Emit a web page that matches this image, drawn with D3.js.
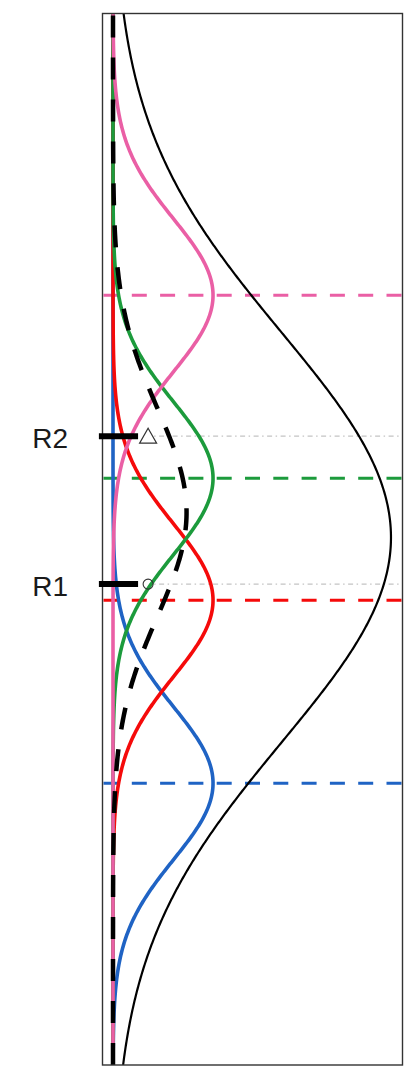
<!DOCTYPE html>
<html><head><meta charset="utf-8">
<script src="https://cdn.jsdelivr.net/npm/d3@7"></script>
<style>html,body{margin:0;padding:0;background:#fff;} svg{display:block;}</style>
</head><body>
<script>
// ---- data ----
const groupNames  = ["blue", "red", "green", "pink"];
const groupMeans  = [-4, -1, 1, 4];
const groupSDs    = [1.25, 1.25, 1.25, 1.25];
const groupColors = ["#1f63c4", "#f50a0a", "#1c9b3c", "#ea5fa5"];
const pooledMean = 0.44, pooledSD = 1.7;                        // dashed black curve
const marginalMean = 0.03, marginalSD = 3.36, marginalScale = 7.47; // thin black curve
const refLabels  = ["R1", "R2"];
const refValues  = [-0.735, 1.69];
const refMarkers = ["circle", "triangle"];
const refMarkerX = 0.112;
const refTickFrom = -0.045, refTickTo = 0.08;
const yDomain = [-8.62, 8.62];
const xDomain = [-0.0335, 0.9237];

// ---- layout ----
const W = 411, H = 1066;
const pLeft = 102.5, pRight = 402.5, pTop = 13.5, pBottom = 1065;

const svg = d3.select("body").append("svg").attr("width", W).attr("height", H);
const x = d3.scaleLinear().domain(xDomain).range([pLeft, pRight]);
const y = d3.scaleLinear().domain(yDomain).range([pBottom, pTop]);

svg.append("defs").append("clipPath").attr("id", "clip")
  .append("rect").attr("x", pLeft).attr("y", pTop).attr("width", pRight - pLeft).attr("height", pBottom - pTop);

const dnorm = (v, m, s) => Math.exp(-0.5 * ((v - m) / s) ** 2) / (s * Math.sqrt(2 * Math.PI));
const grid = d3.range(yDomain[0], yDomain[1] + 1e-9, 0.02);
const line = d3.line().x(d => x(d[1])).y(d => y(d[0])).curve(d3.curveLinear);

const g = svg.append("g").attr("clip-path", "url(#clip)");

// horizontal dashed mean lines
g.selectAll("line.mean").data(groupMeans).join("line")
  .attr("class", "mean")
  .attr("x1", pLeft + 1).attr("x2", pRight)
  .attr("y1", d => y(d)).attr("y2", d => y(d))
  .attr("stroke", (d, i) => groupColors[i]).attr("stroke-width", 3)
  .attr("stroke-dasharray", "15,13.3");

// gray reference lines
g.selectAll("line.ref").data(refValues).join("line")
  .attr("class", "ref")
  .attr("x1", x(refMarkerX) + 6).attr("x2", pRight)
  .attr("y1", d => y(d)).attr("y2", d => y(d))
  .attr("stroke", "#c4c4c4").attr("stroke-width", 1.4)
  .attr("stroke-dasharray", "1.5,3.5,5,3.5");

// colored density curves
groupMeans.forEach((m, i) => {
  g.append("path")
    .datum(grid.map(v => [v, dnorm(v, m, groupSDs[i])]))
    .attr("d", line).attr("fill", "none")
    .attr("stroke", groupColors[i]).attr("stroke-width", 3.6)
    .attr("stroke-linejoin", "round");
});

// dashed black curve
g.append("path")
  .datum(grid.map(v => [v, dnorm(v, pooledMean, pooledSD)]))
  .attr("d", line).attr("fill", "none")
  .attr("stroke", "#000").attr("stroke-width", 4.5)
  .attr("stroke-dasharray", "22,20");

// thin black curve
g.append("path")
  .datum(grid.map(v => [v, marginalScale * dnorm(v, marginalMean, marginalSD)]))
  .attr("d", line).attr("fill", "none")
  .attr("stroke", "#000").attr("stroke-width", 2.2);

// panel box
svg.append("rect").attr("x", pLeft).attr("y", pTop)
  .attr("width", pRight - pLeft).attr("height", pBottom - pTop)
  .attr("fill", "none").attr("stroke", "#333").attr("stroke-width", 1.4);

// reference ticks
svg.selectAll("line.tick").data(refValues).join("line")
  .attr("class", "tick")
  .attr("x1", x(refTickFrom)).attr("x2", x(refTickTo))
  .attr("y1", d => y(d)).attr("y2", d => y(d))
  .attr("stroke", "#000").attr("stroke-width", 6);

// markers
refValues.forEach((v, i) => {
  const cx = x(refMarkerX), cy = y(v);
  if (refMarkers[i] === "circle") {
    svg.append("circle").attr("cx", cx).attr("cy", cy).attr("r", 5)
      .attr("fill", "none").attr("stroke", "#333").attr("stroke-width", 1.1);
  } else {
    const s = 8.5;
    svg.append("path")
      .attr("d", `M${cx},${cy - 8}L${cx + s},${cy + 7}L${cx - s},${cy + 7}Z`)
      .attr("fill", "#fff").attr("stroke", "#333").attr("stroke-width", 1.2);
  }
});

// labels
svg.selectAll("text.lab").data(refValues).join("text")
  .attr("class", "lab")
  .attr("x", 68).attr("y", d => y(d) + 2.5)
  .attr("text-anchor", "end").attr("dominant-baseline", "central")
  .attr("font-family", "Liberation Sans, Arial, sans-serif")
  .attr("font-size", 28).attr("fill", "#1a1a1a")
  .text((d, i) => refLabels[i]);
</script>
</body></html>
